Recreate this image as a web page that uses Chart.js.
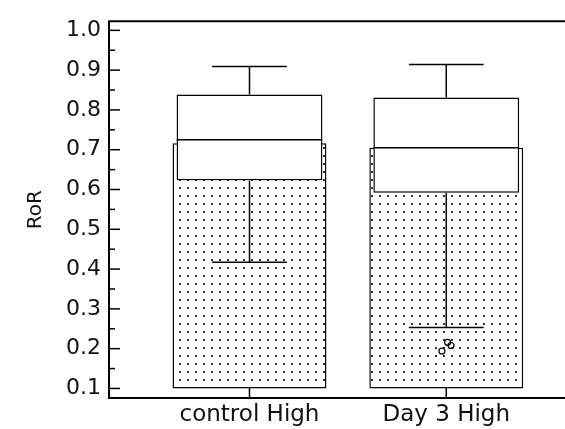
<!DOCTYPE html>
<html>
<head>
<meta charset="utf-8">
<script src="https://cdn.jsdelivr.net/npm/chart.js@4.4.1/dist/chart.umd.min.js"></script>
<style>
  html, body { margin: 0; padding: 0; background: #fff; }
  #wrap { width: 565px; height: 429px; }
</style>
</head>
<body>
<div id="wrap"><canvas id="chart" width="565" height="429"></canvas></div>
<script>
// groups and their position on the x axis
const groups = ["control High", "Day 3 High"];
const groupPos = [0, 1];

// mean bars (dotted)
const barBase = 0.1;
const barTop = [0.716, 0.705];

// box plot summary
const q1 = [0.623, 0.592];
const median = [0.725, 0.705];
const q3 = [0.839, 0.831];
const whiskerLow = [0.417, 0.253];
const whiskerHigh = [0.909, 0.914];

// outliers (Day 3 High)
const outlierX = [1.007, 1.024, 0.978];
const outlierY = [0.216, 0.208, 0.194];

// y axis labels
const yTicks = [0.1, 0.2, 0.3, 0.4, 0.5, 0.6, 0.7, 0.8, 0.9, 1.0];

const FONT = "'DejaVu Sans', sans-serif";
const INK = "#111";

function dotPattern() {
  const c = document.createElement("canvas");
  c.width = 8; c.height = 8;
  const g = c.getContext("2d");
  g.fillStyle = "#fff";
  g.fillRect(0, 0, 8, 8);
  g.fillStyle = "#333";
  g.fillRect(3, 3, 2, 2);
  return g.createPattern(c, "repeat");
}

// whiskers, medians, inward ticks and the frame
const boxExtras = {
  id: "boxExtras",
  afterDatasetsDraw(chart) {
    const ctx = chart.ctx;
    const xs = chart.scales.x, ys = chart.scales.y;
    const area = chart.chartArea;
    const capHalf = 0.19, boxHalf = 0.37;
    ctx.save();
    ctx.strokeStyle = "#000";
    ctx.lineWidth = 1.5;
    ctx.lineCap = "butt";
    groupPos.forEach((p, i) => {
      const x = xs.getPixelForValue(p);
      const line = (x1, y1, x2, y2) => {
        ctx.beginPath(); ctx.moveTo(x1, y1); ctx.lineTo(x2, y2); ctx.stroke();
      };
      const cl = xs.getPixelForValue(p - capHalf), cr = xs.getPixelForValue(p + capHalf);
      line(x, ys.getPixelForValue(q3[i]), x, ys.getPixelForValue(whiskerHigh[i]));
      line(cl, ys.getPixelForValue(whiskerHigh[i]), cr, ys.getPixelForValue(whiskerHigh[i]));
      line(x, ys.getPixelForValue(q1[i]), x, ys.getPixelForValue(whiskerLow[i]));
      line(cl, ys.getPixelForValue(whiskerLow[i]), cr, ys.getPixelForValue(whiskerLow[i]));
      const ym = ys.getPixelForValue(median[i]);
      line(xs.getPixelForValue(p - boxHalf), ym, xs.getPixelForValue(p + boxHalf), ym);
    });

    // ticks pointing into the plot
    ctx.lineWidth = 1.5;
    yTicks.forEach(v => {
      const y = ys.getPixelForValue(v);
      ctx.beginPath(); ctx.moveTo(area.left, y); ctx.lineTo(area.left + 11, y); ctx.stroke();
      const ym = ys.getPixelForValue(v + 0.05);
      if (ym > area.top) {
        ctx.beginPath(); ctx.moveTo(area.left, ym); ctx.lineTo(area.left + 6, ym); ctx.stroke();
      }
    });
    groupPos.forEach(p => {
      const x = xs.getPixelForValue(p);
      ctx.beginPath(); ctx.moveTo(x, area.bottom); ctx.lineTo(x, area.bottom - 10); ctx.stroke();
    });

    // frame: top, left, bottom (open on the right)
    ctx.lineWidth = 2;
    ctx.beginPath();
    ctx.moveTo(chart.width, area.top);
    ctx.lineTo(area.left, area.top);
    ctx.lineTo(area.left, area.bottom);
    ctx.lineTo(chart.width, area.bottom);
    ctx.stroke();
    ctx.restore();
  }
};

const ctx = document.getElementById("chart").getContext("2d");
new Chart(ctx, {
  type: "bar",
  data: {
    datasets: [
      {
        type: "scatter",
        data: outlierX.map((x, i) => ({ x: x, y: outlierY[i] })),
        pointRadius: 3,
        pointBorderWidth: 1.2,
        borderColor: "#000",
        backgroundColor: "rgba(0,0,0,0)",
        order: 0
      },
      {
        type: "bar",
        data: groupPos.map((p, i) => ({ x: p, y: [q1[i], q3[i]] })),
        backgroundColor: "#fff",
        borderColor: "#000",
        borderWidth: 1.5,
        borderSkipped: false,
        grouped: false,
        categoryPercentage: 1,
        barPercentage: 0.741,
        order: 1
      },
      {
        type: "bar",
        data: groupPos.map((p, i) => ({ x: p, y: [barBase, barTop[i]] })),
        backgroundColor: dotPattern(),
        borderColor: "#000",
        borderWidth: 1.5,
        borderSkipped: false,
        grouped: false,
        categoryPercentage: 1,
        barPercentage: 0.782,
        order: 2
      }
    ]
  },
  options: {
    responsive: false,
    animation: false,
    devicePixelRatio: 1,
    layout: { padding: { top: 15, right: 0, left: 0, bottom: 0 } },
    plugins: { legend: { display: false }, tooltip: { enabled: false } },
    scales: {
      x: {
        type: "linear",
        offset: false,
        min: -0.714,
        max: 1.577,
        afterBuildTicks: s => { s.ticks = groupPos.map(v => ({ value: v })); },
        afterFit: s => { s.height = 31; },
        grid: { display: false, drawTicks: false, offset: false },
        border: { display: false },
        ticks: {
          autoSkip: false,
          maxRotation: 0,
          padding: 3,
          color: INK,
          font: { family: FONT, size: 23 },
          callback: (v, i) => groups[i]
        }
      },
      y: {
        min: 0.076,
        max: 1.023,
        afterBuildTicks: s => { s.ticks = yTicks.map(v => ({ value: v })); },
        afterFit: s => { s.width = 109; },
        grid: { display: false, drawTicks: false },
        border: { display: false },
        ticks: {
          padding: 8,
          color: INK,
          font: { family: FONT, size: 22 },
          callback: v => v.toFixed(1)
        },
        title: {
          display: true,
          text: "RoR",
          color: INK,
          font: { family: FONT, size: 20 },
          padding: { top: 24, bottom: 0 }
        }
      }
    }
  },
  plugins: [boxExtras]
});
</script>
</body>
</html>
